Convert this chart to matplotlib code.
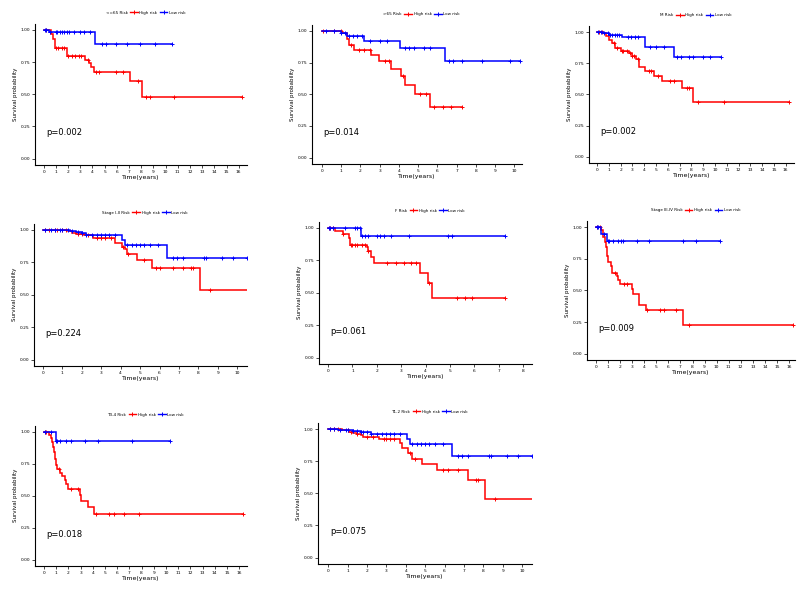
import numpy as np
import matplotlib
matplotlib.use('Agg')
import matplotlib.pyplot as plt
from matplotlib.lines import Line2D
from matplotlib.transforms import blended_transform_factory

# ---- data (time in years, survival probability) ----
titles = ['<=65 Risk', '>65 Risk', 'M Risk', 'Stage I-II Risk', 'F Risk',
          'Stage III-IV Risk', 'T3-4 Risk', 'T1-2 Risk']
pvalues = ['p=0.002', 'p=0.014', 'p=0.002', 'p=0.224', 'p=0.061',
           'p=0.009', 'p=0.018', 'p=0.075']
xmax_ticks = [16, 10, 16, 10, 8, 16, 16, 10]

# <=65
p1_high_t = [0, 0.6, 0.75, 0.95, 1.9, 3.4, 3.7, 3.9, 4.1, 7.1, 8.1, 16.3]
p1_high_s = [1.0, 0.97, 0.93, 0.86, 0.80, 0.77, 0.74, 0.71, 0.67, 0.60, 0.48, 0.48]
p1_high_c = [0.2, 1.0, 1.2, 1.5, 1.7, 2.0, 2.3, 2.6, 2.9, 3.1, 3.6, 4.3, 4.5, 5.9,
             6.5, 7.7, 8.4, 8.7, 10.7, 16.3]
p1_low_t = [0, 0.4, 4.2, 10.5]
p1_low_s = [1.0, 0.985, 0.889, 0.889]
p1_low_c = [0.1, 0.2, 0.5, 1.0, 1.1, 1.3, 1.5, 1.7, 1.9, 2.1, 2.5, 3.0, 3.3, 3.8,
            4.8, 5.1, 5.9, 6.8, 7.9, 9.1, 10.5]

# >65
p2_high_t = [0, 1.05, 1.3, 1.4, 1.65, 2.55, 2.95, 3.6, 4.1, 4.3, 4.85, 5.6, 7.3]
p2_high_s = [1.0, 0.98, 0.94, 0.887, 0.85, 0.81, 0.76, 0.70, 0.647, 0.575, 0.50, 0.40, 0.40]
p2_high_c = [0.05, 0.6, 1.0, 1.5, 1.9, 2.2, 2.5, 3.3, 3.5, 4.2, 5.1, 5.4, 5.8, 6.3, 6.7, 7.3]
p2_low_t = [0, 1.0, 1.3, 2.2, 4.05, 6.4, 10.3]
p2_low_s = [1.0, 0.985, 0.96, 0.92, 0.865, 0.76, 0.76]
p2_low_c = [0.2, 0.6, 1.0, 1.2, 1.4, 1.6, 1.8, 2.1, 2.5, 3.0, 3.4, 4.3, 4.5, 4.8,
            5.3, 5.6, 6.6, 6.8, 7.3, 8.3, 9.8, 10.3]

# M
p3_high_t = [0, 0.5, 0.8, 1.0, 1.3, 1.5, 2.0, 2.7, 3.0, 3.3, 3.6, 4.1, 4.8, 5.5,
             7.2, 8.1, 16.3]
p3_high_s = [1.0, 0.99, 0.97, 0.94, 0.91, 0.87, 0.85, 0.83, 0.81, 0.78, 0.72, 0.69,
             0.65, 0.61, 0.55, 0.44, 0.44]
p3_high_c = [0.2, 0.4, 1.4, 1.7, 2.1, 2.2, 2.5, 2.8, 3.0, 3.1, 3.5, 4.4, 4.6, 5.2,
             6.2, 6.5, 7.6, 7.8, 8.6, 10.8, 16.3]
p3_low_t = [0, 0.5, 1.0, 2.1, 4.1, 6.5, 10.5]
p3_low_s = [1.0, 0.99, 0.98, 0.96, 0.88, 0.80, 0.80]
p3_low_c = [0.1, 0.3, 0.6, 0.9, 1.1, 1.3, 1.5, 1.7, 1.9, 2.6, 2.9, 3.2, 3.5, 4.5,
            5.0, 5.7, 6.8, 7.1, 7.8, 8.1, 9.0, 9.6, 10.5]

# Stage I-II
p4_high_t = [0, 1.3, 1.5, 1.7, 2.1, 2.6, 3.7, 4.05, 4.2, 4.3, 4.85, 5.6, 8.1, 10.5]
p4_high_s = [1.0, 0.99, 0.98, 0.97, 0.96, 0.94, 0.90, 0.87, 0.85, 0.815, 0.765,
             0.71, 0.535, 0.535]
p4_high_c = [0.1, 0.3, 0.6, 0.7, 1.0, 1.2, 1.8, 2.0, 2.3, 2.8, 3.0, 3.2, 3.5, 4.1,
             4.4, 5.2, 5.8, 6.0, 6.7, 7.2, 7.6, 7.7, 8.6]
p4_low_t = [0, 1.4, 1.7, 2.0, 2.2, 4.05, 4.2, 6.4, 10.5]
p4_low_s = [1.0, 0.99, 0.985, 0.975, 0.965, 0.925, 0.885, 0.785, 0.785]
p4_low_c = [0.1, 0.4, 0.6, 0.9, 1.0, 1.3, 1.5, 1.8, 2.0, 2.2, 2.5, 2.8, 3.0, 3.2,
            3.4, 3.7, 4.3, 4.6, 4.8, 5.0, 5.2, 5.5, 5.9, 6.7, 6.9, 7.2, 8.3, 8.4,
            9.2, 9.8, 10.5]

# F
p5_high_t = [0, 0.3, 0.6, 0.85, 0.9, 1.6, 1.65, 1.75, 1.9, 3.75, 4.1, 4.25, 7.25]
p5_high_s = [1.0, 0.974, 0.95, 0.92, 0.87, 0.85, 0.82, 0.775, 0.73, 0.655, 0.575,
             0.46, 0.46]
p5_high_c = [0.05, 0.1, 0.2, 0.6, 0.95, 1.0, 1.1, 1.2, 1.4, 1.5, 1.65, 2.4, 2.8,
             3.1, 3.4, 3.6, 4.15, 5.3, 5.6, 5.9, 7.25]
p5_low_t = [0, 1.35, 7.25]
p5_low_s = [1.0, 0.938, 0.938]
p5_low_c = [0.05, 0.1, 0.2, 0.7, 1.1, 1.2, 1.3, 1.4, 1.5, 1.65, 2.0, 2.15, 2.3,
            2.6, 3.3, 4.9, 5.1, 7.25]

# Stage III-IV
p6_high_t = [0, 0.4, 0.55, 0.6, 0.75, 0.85, 0.9, 1.0, 1.25, 1.35, 1.75, 1.85, 1.95,
             2.95, 3.05, 3.6, 4.15, 7.2, 16.3]
p6_high_s = [1.0, 0.98, 0.96, 0.92, 0.88, 0.84, 0.77, 0.72, 0.69, 0.64, 0.61, 0.58,
             0.55, 0.51, 0.47, 0.385, 0.345, 0.225, 0.225]
p6_high_c = [0.1, 0.3, 1.6, 2.3, 2.6, 4.2, 5.3, 5.6, 6.6, 7.7, 16.3]
p6_low_t = [0, 0.45, 0.95, 10.3]
p6_low_s = [1.0, 0.945, 0.89, 0.89]
p6_low_c = [0.1, 0.2, 0.65, 1.0, 1.1, 1.4, 1.8, 2.1, 2.2, 3.4, 4.4, 7.2, 8.3, 10.3]

# T3-4
p7_high_t = [0, 0.4, 0.55, 0.65, 0.75, 0.8, 0.9, 0.95, 1.05, 1.35, 1.5, 1.75, 1.8,
             1.95, 2.95, 3.05, 3.6, 4.1, 16.3]
p7_high_s = [1.0, 0.98, 0.95, 0.92, 0.88, 0.84, 0.79, 0.74, 0.71, 0.68, 0.655, 0.62,
             0.59, 0.555, 0.51, 0.46, 0.41, 0.36, 0.36]
p7_high_c = [0.1, 0.2, 1.2, 2.2, 2.8, 4.3, 5.3, 5.7, 6.6, 7.8, 16.3]
p7_low_t = [0, 0.95, 10.3]
p7_low_s = [1.0, 0.927, 0.927]
p7_low_c = [0.1, 0.6, 1.0, 1.1, 1.3, 1.8, 2.2, 3.4, 4.4, 7.2, 10.3]

# T1-2
p8_high_t = [0, 0.7, 0.9, 1.1, 1.3, 1.5, 1.7, 1.8, 2.6, 3.7, 3.8, 4.1, 4.3, 4.85,
             5.6, 7.2, 8.1, 10.5]
p8_high_s = [1.0, 0.995, 0.99, 0.98, 0.97, 0.96, 0.95, 0.94, 0.92, 0.89, 0.85, 0.81,
             0.77, 0.725, 0.68, 0.605, 0.455, 0.455]
p8_high_c = [0.1, 0.3, 0.5, 1.0, 1.2, 1.5, 2.0, 2.3, 2.9, 3.0, 3.2, 3.4, 4.2, 4.5,
             5.9, 6.2, 6.7, 7.6, 7.7, 8.6]
p8_low_t = [0, 0.5, 0.9, 1.3, 1.7, 2.2, 4.05, 4.2, 6.4, 10.5]
p8_low_s = [1.0, 0.995, 0.99, 0.985, 0.98, 0.965, 0.925, 0.88, 0.79, 0.79]
p8_low_c = [0.1, 0.3, 0.6, 0.9, 1.0, 1.3, 1.5, 1.7, 1.8, 2.0, 2.2, 2.5, 2.8, 3.0,
            3.2, 3.4, 3.7, 4.3, 4.6, 4.8, 5.0, 5.2, 5.5, 5.9, 6.7, 6.9, 7.2, 8.3,
            8.4, 9.2, 9.8, 10.5]

curves = [
    (p1_high_t, p1_high_s, p1_high_c, p1_low_t, p1_low_s, p1_low_c),
    (p2_high_t, p2_high_s, p2_high_c, p2_low_t, p2_low_s, p2_low_c),
    (p3_high_t, p3_high_s, p3_high_c, p3_low_t, p3_low_s, p3_low_c),
    (p4_high_t, p4_high_s, p4_high_c, p4_low_t, p4_low_s, p4_low_c),
    (p5_high_t, p5_high_s, p5_high_c, p5_low_t, p5_low_s, p5_low_c),
    (p6_high_t, p6_high_s, p6_high_c, p6_low_t, p6_low_s, p6_low_c),
    (p7_high_t, p7_high_s, p7_high_c, p7_low_t, p7_low_s, p7_low_c),
    (p8_high_t, p8_high_s, p8_high_c, p8_low_t, p8_low_s, p8_low_c),
]

# ---- layout (pixel boxes: left, right, top, bottom) and x limits ----
W, H = 808, 591
boxes = [(35, 247, 23.5, 165), (312, 522, 24.6, 164), (589, 794, 25.8, 163),
         (34, 247, 223.5, 366), (319, 532, 221.5, 364), (587, 795, 220.7, 360),
         (35, 247, 425.6, 566), (318, 532, 422.6, 564)]
xlims = [(-0.71, 16.68), (-0.52, 10.4), (-0.68, 16.7), (-0.46, 10.5),
         (-0.37, 8.36), (-0.75, 16.5), (-0.74, 16.65), (-0.52, 10.5)]

RED = '#FF0000'
BLUE = '#0000FF'


def step_value(t, s, x):
    idx = np.searchsorted(t, x, side='right') - 1
    return np.asarray(s)[np.clip(idx, 0, len(s) - 1)]


fig = plt.figure(figsize=(W / 100, H / 100), dpi=100)

for i in range(8):
    l, r, top, bot = boxes[i]
    ax = fig.add_axes([l / W, 1 - bot / H, (r - l) / W, (bot - top) / H])
    ht, hs, hc, lt, ls, lc = curves[i]

    for t, s, c, col in [(ht, hs, hc, RED), (lt, ls, lc, BLUE)]:
        ax.step(t, s, where='post', color=col, lw=1.1, solid_joinstyle='miter')
        ax.plot(c, step_value(t, s, c), ls='none', marker='+', color=col,
                ms=3.5, mew=0.7)

    ax.set_xlim(*xlims[i])
    ax.set_ylim(-0.05, 1.05)
    ax.set_xticks(range(0, xmax_ticks[i] + 1))
    ax.set_yticks([0, 0.25, 0.5, 0.75, 1.0])
    ax.set_yticklabels(['0.00', '0.25', '0.50', '0.75', '1.00'])
    for side in ['top', 'right']:
        ax.spines[side].set_visible(False)
    for side in ['left', 'bottom']:
        ax.spines[side].set_linewidth(0.8)
    ax.tick_params(labelsize=3.2, length=2, width=0.5, pad=1.5, colors='black')
    ax.set_xlabel('Time(years)', fontsize=4.5, labelpad=1)
    ax.set_ylabel('Survival probability', fontsize=4, labelpad=2)

    trans = blended_transform_factory(ax.transAxes, ax.transData)
    ax.text(0.055, 0.2, pvalues[i], transform=trans, fontsize=6, va='center')

    handles = [Line2D([], [], alpha=0),
               Line2D([], [], color=RED, lw=1.0, marker='+', ms=3.5, mew=0.7),
               Line2D([], [], color=BLUE, lw=1.0, marker='+', ms=3.5, mew=0.7)]
    ax.legend(handles, [titles[i], 'High risk', 'Low risk'], ncol=3,
              loc='lower center', bbox_to_anchor=(0.5, 1.05), frameon=False,
              fontsize=3, handlelength=1.8, handletextpad=0.4,
              columnspacing=0.6, borderaxespad=0)

fig.savefig('out.png', dpi=100)
